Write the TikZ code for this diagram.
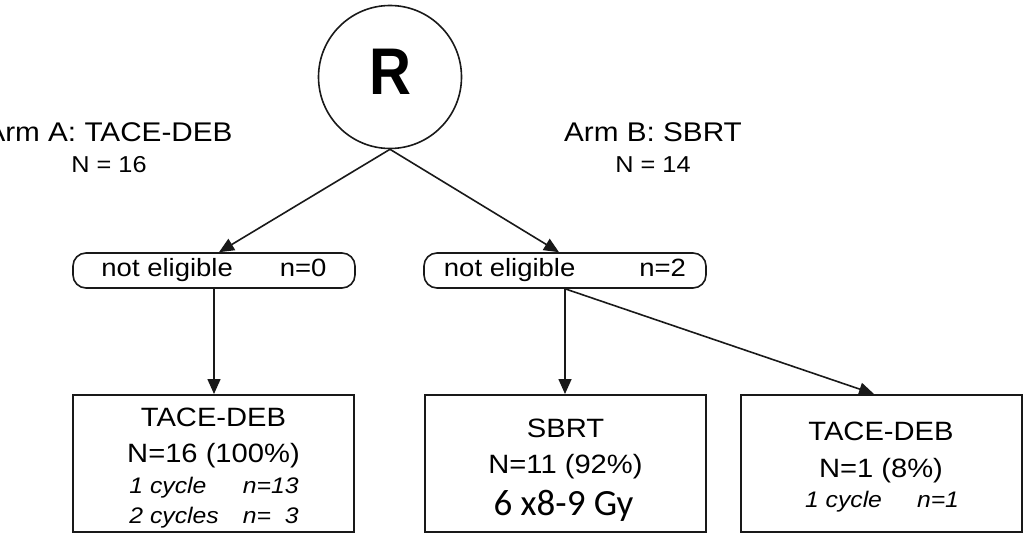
\documentclass[tikz,border=0pt]{standalone}
\usepackage{fontspec}
\setmainfont{Liberation Sans}[FakeStretch=1.1]
\newfontfamily\randfont{Liberation Sans}[FakeStretch=0.88]
\newfontfamily\dosefont{Carlito}
\usetikzlibrary{arrows.meta, positioning}

\newcommand{\fsz}[1]{\fontsize{#1}{#1}\selectfont}

\begin{document}
\begin{tikzpicture}[x=1pt, y=-1pt,
    arrow/.style={-{Triangle[length=15pt, width=13pt]}, line width=1.6pt, black!90},
    pill/.style={draw=black!90, line width=1.6pt, rounded corners=13pt,
        minimum width=282pt, minimum height=35pt, inner sep=0pt, font=\fsz{25}},
    armbox/.style={draw=black!90, line width=2pt, minimum width=281pt,
        minimum height=137pt, inner sep=0pt},
    txt/.style={anchor=base, inner sep=0pt, font=\fsz{26.5}},
]
    \useasboundingbox (0,0) rectangle (1024,534);

    % Randomisation
    \node[circle, draw=black!90, line width=1.6pt, minimum size=143pt, inner sep=0pt,
        font=\randfont\bfseries\fsz{66}, text depth=10pt] (R) at (390,77) {R};

    % Arm labels
    \node[txt, font=\fsz{27}] (armA) at (109,142) {Arm A: TACE-DEB};
    \node[txt, font=\fsz{23}] (nA) at (109,173) {N = 16};
    \node[txt, font=\fsz{27}] (armB) at (653,142) {Arm B: SBRT};
    \node[txt, font=\fsz{23}] (nB) at (653,173) {N = 14};

    % Eligibility
    \node[pill] (elA) at (214,270.5) {not eligible\hspace{47pt}n=0};
    \node[pill] (elB) at (565,270.5) {not eligible\hspace{64pt}n=2};

    % Treatment received
    \node[armbox] (trtA) at (213.5,463.5) {};
    \node[txt] (trtA-1) at (213.5,426) {TACE-DEB};
    \node[txt] (trtA-2) at (213.5,462) {N=16 (100\%)};
    \node[txt, font=\itshape\fontsize{22.5}{30}\selectfont] (trtA-3) at (214,493)
        {\begin{tabular}[t]{@{}l@{\hspace{24pt}}l@{}}
            1 cycle & n=13\\
            2 cycles & n=\phantom{1}3
        \end{tabular}};

    \node[armbox] (trtB) at (565.5,463.5) {};
    \node[txt] (trtB-1) at (565.5,437) {SBRT};
    \node[txt] (trtB-2) at (565.5,473) {N=11 (92\%)};
    \node[txt, font=\dosefont\fsz{37}] (trtB-3) at (563.5,515) {6 x8-9 Gy};

    \node[armbox] (trtC) at (881,463.5) {};
    \node[txt] (trtC-1) at (881,440) {TACE-DEB};
    \node[txt] (trtC-2) at (881,477) {N=1 (8\%)};
    \node[txt, font=\itshape\fsz{22.5}] (trtC-3) at (882,507) {1 cycle\hspace{35pt}n=1};

    % Flow
    \draw[arrow] (R.south) -- ([xshift=5pt]elA.north);
    \draw[arrow] (R.south) -- ([xshift=-6pt]elB.north);
    \draw[arrow] (elA.south) -- (elA.south |- trtA.north);
    \draw[arrow] (elB.south) -- (elB.south |- trtB.north);
    \draw[arrow] (elB.south) -- ([xshift=-7pt]trtC.north);
\end{tikzpicture}
\end{document}
